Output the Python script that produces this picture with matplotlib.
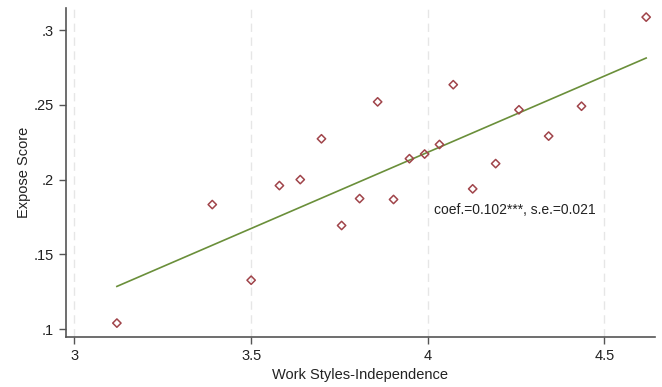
import matplotlib
matplotlib.use('Agg')
from matplotlib import pyplot as plt
import numpy as np

plt.rcParams['font.family'] = ['Liberation Sans', 'DejaVu Sans']

# binned means: work styles independence vs expose score
independence = [3.120, 3.390, 3.500, 3.580, 3.639, 3.699, 3.756, 3.807, 3.858, 3.903,
                3.948, 3.991, 4.033, 4.072, 4.127, 4.192, 4.258, 4.342, 4.435, 4.618]
expose = [0.104, 0.1833, 0.1327, 0.196, 0.200, 0.2273, 0.1693, 0.1873, 0.252, 0.1867,
          0.214, 0.2171, 0.2235, 0.2635, 0.1938, 0.2107, 0.2467, 0.2291, 0.2491, 0.3087]

coef = 0.102
se = 0.021
intercept = -0.1897

xticks = [3, 3.5, 4, 4.5]
xticklabels = ['3', '3.5', '4', '4.5']
yticks = [0.1, 0.15, 0.2, 0.25, 0.3]
yticklabels = ['.1', '.15', '.2', '.25', '.3']

fig = plt.figure(figsize=(6.62, 3.87), dpi=100)
ax = fig.add_axes([66 / 662, 50 / 387, 589 / 662, 329 / 387])

for xt in xticks:
    ax.axvline(xt, color='#e6e6e6', linestyle=(0, (6, 4)), linewidth=1.0, zorder=0)

ax.scatter(independence, expose, marker='D', s=18, facecolors='none',
           edgecolors='#a0444a', linewidths=1.1, zorder=3)

xs = np.array([min(independence), max(independence)])
ax.plot(xs, intercept + coef * xs, color='#6a8f3a', linewidth=1.2, zorder=2)

ax.text(4.018, 0.1798, 'coef.=%.3f***, s.e.=%.3f' % (coef, se),
        fontsize=10, va='center', ha='left', color='#222222')

ax.set_xlim(2.976, 4.643)
ax.set_ylim(0.0947, 0.3148)
ax.set_xticks(xticks)
ax.set_xticklabels(xticklabels)
ax.set_yticks(yticks)
ax.set_yticklabels(yticklabels)
ax.tick_params(labelsize=10.5, colors='#222222', length=5, width=1, color='#555555')
ax.set_xlabel('Work Styles-Independence', fontsize=10.5, color='#222222')
ax.set_ylabel('Expose Score', fontsize=10.5, color='#222222', labelpad=2)

ax.spines['top'].set_visible(False)
ax.spines['right'].set_visible(False)
for side in ['left', 'bottom']:
    ax.spines[side].set_color('#555555')
    ax.spines[side].set_linewidth(1.2)

fig.savefig('out.png', dpi=100)
